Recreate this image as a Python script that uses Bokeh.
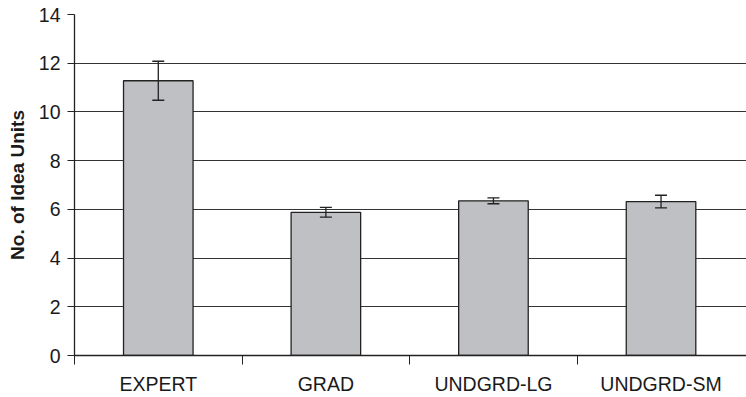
from bokeh.plotting import figure
from bokeh.models import ColumnDataSource, FixedTicker, Range1d, Whisker, TeeHead
from bokeh.embed import file_html
from bokeh.resources import INLINE

# Mean number of idea units per group, with error bar half-widths
groups = ["EXPERT", "GRAD", "UNDGRD-LG", "UNDGRD-SM"]
means = [11.28, 5.88, 6.35, 6.32]
errors = [0.80, 0.20, 0.12, 0.26]
y_ticks = [0, 2, 4, 6, 8, 10, 12, 14]

xs = [i + 0.5 for i in range(len(groups))]
src = ColumnDataSource(dict(
    x=xs,
    top=means,
    upper=[m + e for m, e in zip(means, errors)],
    lower=[m - e for m, e in zip(means, errors)],
))

p = figure(width=746, height=397, output_backend="svg", toolbar_location=None,
           x_range=Range1d(0, 4.01), y_range=Range1d(0, 14),
           min_border_left=74, min_border_right=0, min_border_top=14,
           min_border_bottom=41)
p.outline_line_color = None
p.background_fill_color = "white"
p.border_fill_color = "white"

p.vbar(x="x", top="top", width=0.415, bottom=0, source=src,
       fill_color="#bfc0c4", line_color="#222222", line_width=1.3)

cap = dict(size=12, line_color="#222222", line_width=1.3)
p.add_layout(Whisker(base="x", upper="upper", lower="lower", source=src,
                     line_color="#222222", line_width=1.3, level="overlay",
                     upper_head=TeeHead(**cap), lower_head=TeeHead(**cap)))

# y axis
p.yaxis.ticker = FixedTicker(ticks=y_ticks, minor_ticks=[])
p.yaxis.axis_label = "No. of Idea Units"
p.yaxis.axis_label_text_font = "Liberation Sans"
p.yaxis.axis_label_text_font_style = "bold"
p.yaxis.axis_label_text_font_size = "19px"
p.yaxis.axis_label_text_color = "#1a1a1a"
p.yaxis.axis_label_standoff = 8
p.yaxis.major_label_text_font = "Liberation Sans"
p.yaxis.major_label_text_font_size = "19.5px"
p.yaxis.major_label_text_color = "#1a1a1a"
p.yaxis.major_label_standoff = 7
p.yaxis.major_tick_out = 7
p.yaxis.major_tick_in = 0
p.yaxis.axis_line_color = "#222222"
p.yaxis.major_tick_line_color = "#222222"
p.yaxis.axis_line_width = 1.3

# x axis: labels at group centres, ticks at group boundaries
p.xaxis.ticker = FixedTicker(ticks=xs, minor_ticks=[0, 1, 2, 3])
p.xaxis.major_label_overrides = {x: g for x, g in zip(xs, groups)}
p.xaxis.major_tick_line_color = None
p.xaxis.major_tick_out = 0
p.xaxis.major_tick_in = 0
p.xaxis.minor_tick_line_color = "#222222"
p.xaxis.minor_tick_out = 9
p.xaxis.minor_tick_in = 0
p.xaxis.axis_line_color = "#222222"
p.xaxis.axis_line_width = 1.3
p.xaxis.major_label_text_font = "Liberation Sans"
p.xaxis.major_label_text_font_size = "19.5px"
p.xaxis.major_label_text_color = "#1a1a1a"
p.xaxis.major_label_standoff = 8

p.xgrid.grid_line_color = None
p.ygrid.grid_line_color = "#333333"
p.ygrid.grid_line_width = 1.1
p.ygrid.level = "underlay"

open("out.html", "w").write(file_html(p, INLINE))
